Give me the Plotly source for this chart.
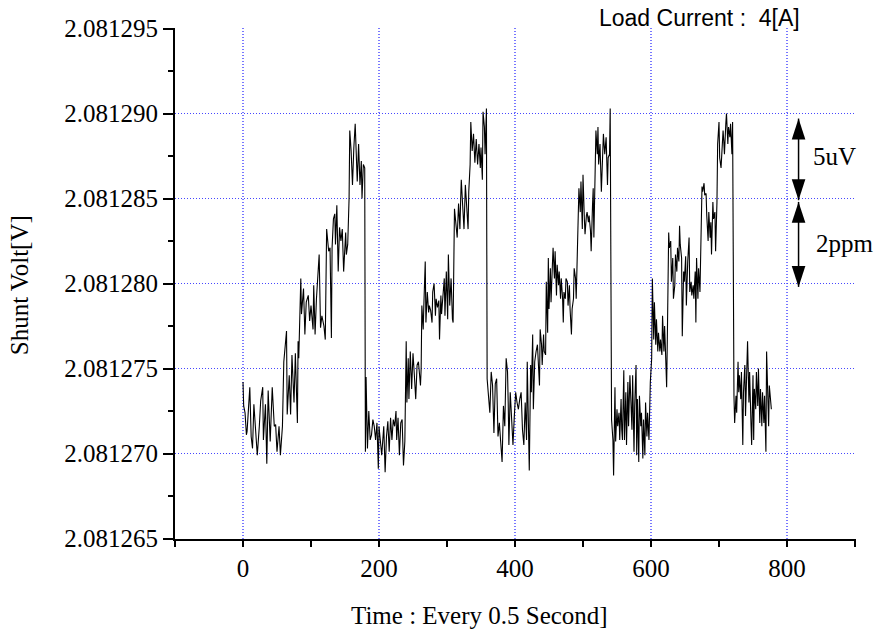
import plotly.graph_objects as go

# ---------------- data ----------------
# time index (samples, every 0.5 s) and shunt voltage offset in microvolts above 2.081265 V
time_idx = [
    0, 1, 3, 5, 6, 8, 10, 12, 14, 16, 19, 21, 24, 26, 29, 30, 33, 35, 37, 40, 43, 46, 48, 50, 53, 55, 58,
    60, 64, 65, 68, 70, 72, 75, 77, 80, 81, 82, 85, 86, 89, 91, 93, 96, 98, 100, 103, 104, 106, 108, 112,
    114, 116, 119, 121, 123, 126, 128, 130, 131, 133, 135, 136, 138, 140, 142, 144, 146, 148, 151, 152, 154,
    156, 157, 159, 161, 163, 165, 168, 170, 172, 174, 175, 177, 179, 180, 181, 183, 185, 187, 189, 191, 193,
    195, 197, 199, 200, 202, 204, 207, 209, 211, 213, 215, 217, 219, 221, 223, 225, 226, 228, 230, 232, 234,
    236, 238, 240, 241, 243, 244, 246, 248, 250, 252, 254, 256, 258, 261, 262, 263, 265, 266, 268, 269, 271,
    273, 274, 276, 278, 279, 281, 283, 284, 286, 288, 289, 291, 292, 294, 296, 297, 299, 301, 302, 304, 306,
    308, 309, 311, 313, 315, 317, 319, 320, 321, 323, 325, 327, 329, 331, 332, 334, 335, 337, 339, 341, 343,
    345, 347, 349, 350, 352, 353, 355, 356, 358, 359, 361, 363, 365, 367, 369, 371, 373, 375, 377, 379, 381,
    383, 385, 387, 389, 390, 391, 393, 395, 397, 399, 401, 403, 405, 407, 409, 411, 413, 415, 417, 418, 420,
    421, 423, 424, 426, 427, 429, 430, 431, 433, 434, 436, 437, 439, 440, 442, 443, 445, 446, 448, 449, 450,
    452, 453, 455, 456, 458, 459, 461, 462, 464, 465, 467, 468, 470, 471, 472, 474, 475, 477, 478, 480, 481,
    483, 484, 486, 487, 489, 490, 492, 493, 494, 496, 497, 499, 500, 502, 503, 505, 506, 508, 509, 511, 512,
    514, 515, 516, 518, 519, 521, 522, 523, 525, 527, 528, 530, 532, 534, 536, 537, 539, 540, 542, 544, 545,
    547, 548, 550, 551, 553, 554, 556, 557, 558, 560, 561, 563, 564, 566, 567, 569, 570, 572, 573, 575, 576,
    578, 579, 580, 582, 583, 585, 586, 588, 589, 591, 592, 594, 595, 597, 598, 599, 601, 602, 604, 605, 607,
    608, 610, 611, 613, 614, 616, 617, 619, 620, 621, 623, 624, 626, 627, 629, 630, 632, 633, 635, 636, 638,
    639, 641, 642, 643, 645, 646, 648, 649, 651, 652, 654, 656, 657, 659, 660, 662, 663, 665, 666, 667, 669,
    670, 672, 673, 675, 676, 678, 679, 681, 682, 684, 685, 687, 688, 689, 691, 692, 694, 695, 697, 698, 700,
    701, 703, 704, 706, 707, 708, 710, 711, 713, 714, 716, 717, 719, 720, 722, 723, 725, 726, 728, 729, 730,
    732, 733, 735, 736, 738, 739, 741, 742, 744, 745, 747, 748, 750, 751, 752, 754, 755, 757, 758, 760, 761,
    763, 764, 766, 767, 769, 770, 772, 773, 774, 776, 777,
]
offset_uV = [
    9.2, 7.8, 7.4, 6.1, 6.3, 7.5, 8.9, 6.0, 5.3, 7.9, 6.3, 4.9, 6.6, 8.1, 8.9, 5.8, 7.9, 4.4, 8.7, 5.7, 8.9, 6.6, 6.7, 5.1, 6.6, 4.9, 6.6,
    10.4, 12.2, 7.3, 9.6, 7.3, 10.8, 8.0, 10.9, 6.8, 11.6, 10.6, 15.3, 13.2, 14.7, 12.0, 13.9, 14.3, 12.8, 13.7, 12.3, 14.9, 12.0, 14.1, 16.7,
    12.4, 13.1, 12.5, 11.7, 18.2, 16.9, 17.1, 11.8, 17.1, 18.8, 19.1, 17.3, 19.6, 15.7, 18.3, 17.5, 18.2, 15.7, 18.0, 16.7, 17.3,
    20.0, 24.0, 22.8, 20.8, 23.0, 24.4, 21.0, 23.2, 20.8, 22.2, 20.0, 22.0, 21.8, 5.1, 9.5, 5.3, 7.5, 5.8, 6.1, 7.0, 6.6,
    5.8, 6.8, 4.1, 6.6, 5.8, 4.9, 6.6, 3.9, 6.0, 6.9, 5.1, 7.1, 5.8, 7.0, 6.6, 7.5, 5.8, 7.1, 4.9, 6.8, 7.0,
    4.3, 5.7, 11.6, 8.0, 10.6, 8.2, 11.0, 8.8, 10.9, 9.6, 8.2, 10.2, 10.4, 9.0, 10.0, 13.7, 12.3, 13.8, 16.3, 12.7, 14.5,
    13.3, 13.7, 13.4, 12.7, 14.5, 15.0, 13.1, 14.1, 13.6, 14.0, 11.7, 14.3, 13.2, 14.3, 15.3, 13.1, 15.7, 12.9, 16.7, 13.7, 15.3,
    12.9, 12.7, 19.4, 18.4, 17.7, 19.7, 18.2, 19.8, 21.1, 19.6, 18.2, 20.8, 19.4, 18.2, 20.4, 22.0, 24.5, 22.8, 23.8, 22.1, 23.5,
    22.0, 23.2, 21.8, 23.0, 21.1, 25.1, 24.2, 22.6, 25.3, 9.4, 8.2, 7.4, 9.8, 9.0, 6.2, 9.1, 9.4, 6.0, 6.8, 5.8, 4.5,
    7.8, 6.6, 10.6, 9.8, 8.0, 5.5, 8.6, 7.0, 5.5, 7.2, 8.6, 8.0, 7.6, 8.2, 8.6, 6.4, 5.5, 8.0, 5.8, 10.4, 6.4,
    4.0, 10.2, 8.6, 12.0, 7.6, 10.4, 11.0, 11.0, 11.4, 10.6, 9.0, 12.3, 11.4, 10.2, 12.0, 11.0, 10.8, 15.1, 12.1, 16.5, 13.5,
    15.9, 13.9, 16.1, 17.1, 15.3, 16.9, 14.3, 16.1, 14.9, 15.7, 14.1, 15.3, 14.1, 12.7, 14.5, 14.1, 15.3, 15.1, 13.7, 14.9, 13.5,
    12.0, 13.5, 14.1, 15.9, 15.3, 14.1, 17.3, 17.7, 20.6, 19.2, 21.0, 18.2, 21.4, 18.8, 17.9, 19.0, 19.2, 18.6, 19.0, 18.1, 16.9,
    19.6, 20.6, 17.7, 21.8, 24.0, 22.6, 24.2, 22.0, 23.2, 20.4, 22.0, 23.8, 22.6, 23.6, 20.8, 22.4, 22.6, 25.3, 7.0, 5.8, 3.7,
    8.9, 5.7, 7.6, 6.6, 7.4, 5.8, 8.2, 6.4, 5.8, 9.9, 5.8, 8.6, 5.5, 9.2, 6.6, 9.6, 8.2, 6.4, 9.6, 5.1, 7.8,
    10.2, 4.9, 8.2, 4.5, 8.4, 6.6, 7.4, 4.7, 7.0, 4.9, 8.0, 6.0, 7.4, 5.8, 8.2, 9.2, 10.6, 15.3, 11.7, 13.9, 11.4,
    12.9, 11.0, 12.1, 11.0, 11.7, 10.8, 13.1, 11.0, 12.5, 11.4, 8.9, 11.7, 18.0, 17.1, 17.5, 15.1, 16.5, 14.1, 14.9, 16.7, 15.7,
    17.1, 16.3, 18.4, 17.3, 16.5, 11.9, 15.7, 15.1, 16.6, 13.7, 16.3, 17.7, 14.5, 15.1, 14.3, 14.9, 14.1, 15.7, 12.7, 16.5, 14.1,
    15.9, 14.5, 17.7, 20.7, 20.4, 20.9, 20.2, 20.3, 19.0, 17.5, 19.2, 17.7, 18.6, 16.7, 19.8, 18.8, 19.2, 16.9, 19.8, 23.2, 24.5,
    22.4, 21.8, 22.8, 24.0, 23.4, 22.6, 24.4, 25.0, 23.2, 24.2, 23.6, 24.4, 22.6, 24.5, 8.4, 6.8, 8.4, 7.4, 10.4, 8.6, 9.6,
    8.2, 9.8, 5.5, 8.6, 10.2, 7.2, 10.8, 11.6, 8.0, 9.8, 6.8, 5.5, 9.6, 5.8, 8.8, 7.6, 9.8, 7.8, 10.0, 6.8, 8.8,
    6.6, 8.6, 6.8, 8.4, 5.1, 11.0, 8.4, 6.6, 9.0, 8.2, 7.6,
]
BASE_V = 2.081265
volts = [BASE_V + u * 1e-6 for u in offset_uV]

x_ticks = [0, 200, 400, 600, 800]
y_ticks = [2.081265, 2.081270, 2.081275, 2.081280, 2.081285, 2.081290, 2.081295]

# axis ranges (padded slightly so the dotted grid lands on whole pixels)
x_range = [-100.0, 901.47]
y_range = [2.081265 - 0.0294e-6, 2.081295 + 0.0294e-6]

# double-headed arrows marking 5uV and 2ppm spans (time position, [top tip, bottom tip])
arrow_time = 817
arrow_5uV = [2.0812897, 2.0812849]
arrow_2ppm = [2.0812848, 2.0812798]

x_title = "Time : Every 0.5 Second]"
y_title = "Shunt Volt[V]"
load_text = "Load Current :  4[A]"

SERIF = "Liberation Serif"
GRID_X = "rgb(120,120,255)"
GRID_Y = "rgb(70,70,255)"
GRID_DASH = "1px,2px"

fig = go.Figure()
fig.add_trace(go.Scatter(
    x=time_idx, y=volts, mode="lines",
    line=dict(color="black", width=1.1), showlegend=False, hoverinfo="skip",
))
for span in (arrow_5uV, arrow_2ppm):
    fig.add_trace(go.Scatter(
        x=[arrow_time, arrow_time], y=span, mode="lines+markers",
        line=dict(color="black", width=1.5),
        marker=dict(symbol="arrow", size=22, angle=[0, 180], color="black"),
        cliponaxis=False, showlegend=False, hoverinfo="skip",
    ))

fig.update_layout(
    width=894, height=630,
    margin=dict(l=175, r=38, t=28, b=91),
    plot_bgcolor="white", paper_bgcolor="white",
    font=dict(family=SERIF, size=25, color="black"),
    xaxis=dict(
        range=x_range, tickvals=x_ticks, ticks="outside", ticklen=6, tickwidth=1.5,
        tickcolor="black", showline=True, linecolor="black", linewidth=2,
        showgrid=True, gridcolor=GRID_X, griddash=GRID_DASH, gridwidth=2, zeroline=False,
        tickfont=dict(family=SERIF, size=25),
        minor=dict(tick0=0, dtick=100, ticks="outside", ticklen=6, tickwidth=1.5,
                   tickcolor="black", showgrid=False),
    ),
    yaxis=dict(
        range=y_range, tickvals=y_ticks, tickformat=".6f",
        ticks="outside", ticklen=10, tickwidth=1.5, tickcolor="black",
        showline=True, linecolor="black", linewidth=2,
        showgrid=True, gridcolor=GRID_Y, griddash=GRID_DASH, gridwidth=1, zeroline=False,
        tickfont=dict(family=SERIF, size=25),
        minor=dict(tick0=2.081265, dtick=2.5e-6, ticks="outside", ticklen=5, tickwidth=1.5,
                   tickcolor="black", showgrid=False),
    ),
    annotations=[
        dict(text=x_title, xref="paper", yref="paper", x=0.447, y=-0.15,
             xanchor="center", yanchor="middle", showarrow=False,
             font=dict(family=SERIF, size=25)),
        dict(text=y_title, xref="paper", yref="paper", x=-0.228, y=0.496,
             xanchor="center", yanchor="middle", textangle=-90, showarrow=False,
             font=dict(family=SERIF, size=25)),
        dict(text=load_text, xref="paper", yref="paper", x=0.7707, y=1.0196,
             xanchor="center", yanchor="middle", showarrow=False,
             font=dict(family="Liberation Sans", size=23)),
        dict(text="5uV", xref="x", yref="y", x=870, y=2.08128747,
             xanchor="center", yanchor="middle", showarrow=False,
             font=dict(family=SERIF, size=25)),
        dict(text="2ppm", xref="x", yref="y", x=886, y=2.08128235,
             xanchor="center", yanchor="middle", showarrow=False,
             font=dict(family=SERIF, size=25)),
    ],
)

fig.write_html("out.html")
